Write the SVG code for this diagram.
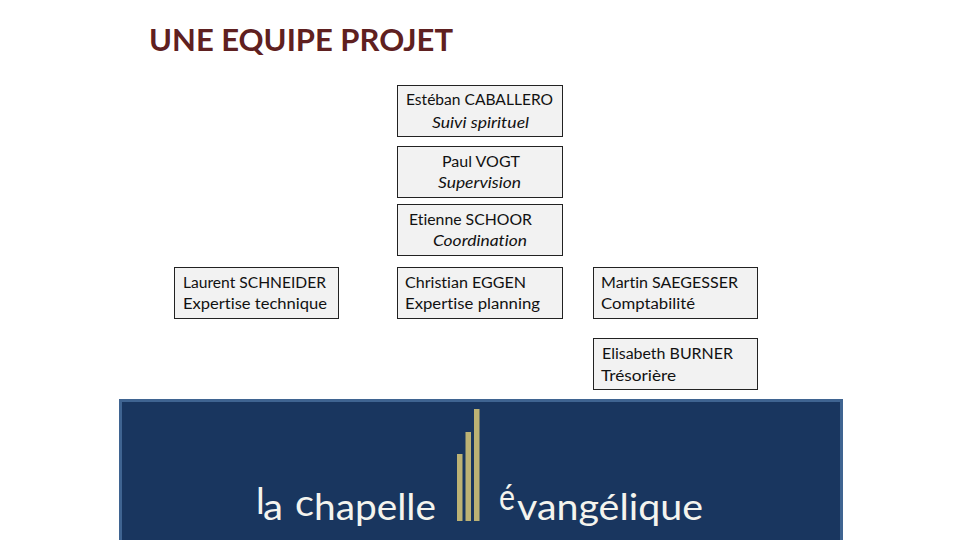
<svg xmlns="http://www.w3.org/2000/svg" width="960" height="540" viewBox="0 0 960 540">
<style>
.b{fill:#f2f2f2;stroke:#222;stroke-width:1}
.t{font-family:"Lato","Open Sans",sans-serif;font-size:15.5px;fill:#111;font-variant-ligatures:none}
.i{font-style:italic}
.l{font-family:"Lato","Noto Sans",sans-serif;font-size:37px;fill:#f4f4ee;font-weight:400}
.g{fill:#bcb274}
</style>
<rect width="960" height="540" fill="#fff"/>
<text x="149" y="51" font-family="Lato,'Open Sans',sans-serif" font-size="31" font-weight="700" fill="#5f2020" textLength="304" lengthAdjust="spacingAndGlyphs">UNE EQUIPE PROJET</text>
<g id="n1"><rect class="b" x="397.500" y="85.500" width="165" height="51"/><text class="t" x="406" y="105" textLength="147" lengthAdjust="spacingAndGlyphs">Estéban CABALLERO</text><text class="t i" x="432" y="127.500" textLength="97" lengthAdjust="spacingAndGlyphs">Suivi spirituel</text></g>
<g id="n2"><rect class="b" x="397.500" y="146.500" width="165" height="51"/><text class="t" x="442" y="166.500" textLength="78" lengthAdjust="spacingAndGlyphs">Paul VOGT</text><text class="t i" x="438" y="187.500" textLength="83" lengthAdjust="spacingAndGlyphs">Supervision</text></g>
<g id="n3"><rect class="b" x="397.500" y="204.500" width="165" height="51"/><text class="t" x="409" y="224.500" textLength="123" lengthAdjust="spacingAndGlyphs">Etienne SCHOOR</text><text class="t i" x="433" y="246" textLength="94" lengthAdjust="spacingAndGlyphs">Coordination</text></g>
<g id="n4"><rect class="b" x="174.500" y="267.500" width="164" height="51"/><text class="t" x="183" y="287.500" textLength="143" lengthAdjust="spacingAndGlyphs">Laurent SCHNEIDER</text><text class="t" x="183" y="308.500" textLength="144" lengthAdjust="spacingAndGlyphs">Expertise technique</text></g>
<g id="n5"><rect class="b" x="397.500" y="267.500" width="165" height="51"/><text class="t" x="405" y="287.500" textLength="121" lengthAdjust="spacingAndGlyphs">Christian EGGEN</text><text class="t" x="405" y="308.500" textLength="135" lengthAdjust="spacingAndGlyphs">Expertise planning</text></g>
<g id="n6"><rect class="b" x="593.500" y="267.500" width="164" height="51"/><text class="t" x="601" y="287.500" textLength="137" lengthAdjust="spacingAndGlyphs">Martin SAEGESSER</text><text class="t" x="601" y="308.500" textLength="94" lengthAdjust="spacingAndGlyphs">Comptabilité</text></g>
<g id="n7"><rect class="b" x="593.500" y="338.500" width="164" height="51"/><text class="t" x="602" y="358.500" textLength="131" lengthAdjust="spacingAndGlyphs">Elisabeth BURNER</text><text class="t" x="601" y="380.500" textLength="75" lengthAdjust="spacingAndGlyphs">Trésorière</text></g>
<g id="logo">
<rect x="120.500" y="400.500" width="721" height="141" fill="#19365f" stroke="#3f6491" stroke-width="3"/>
<rect class="g" x="457" y="454" width="5.500" height="67"/>
<rect class="g" x="465.500" y="432" width="5.500" height="89"/>
<rect class="g" x="474" y="409" width="5.500" height="112"/>
<text class="l" x="256" y="514" textLength="7">l</text>
<text class="l" x="263" y="520" textLength="20" lengthAdjust="spacingAndGlyphs">a</text>
<text class="l" x="295" y="516" textLength="19" lengthAdjust="spacingAndGlyphs">c</text>
<text class="l" x="314" y="520" textLength="122" lengthAdjust="spacingAndGlyphs">hapelle</text>
<text class="l" x="499" y="510" font-size="30" textLength="16" lengthAdjust="spacingAndGlyphs">é</text>
<text class="l" x="517" y="520" textLength="186" lengthAdjust="spacingAndGlyphs">vangélique</text>
</g>
</svg>
